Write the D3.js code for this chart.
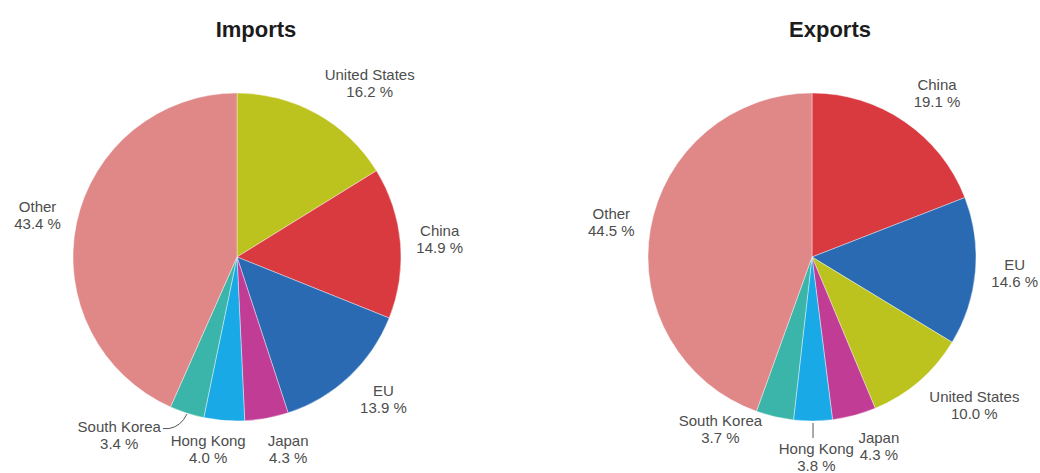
<!DOCTYPE html>
<html>
<head>
<meta charset="utf-8">
<script src="https://cdn.jsdelivr.net/npm/d3@7/dist/d3.min.js"></script>
<style>
  html, body { margin: 0; padding: 0; background: #fff; }
  svg { display: block; }
  .title { font-family: "Liberation Sans", Arial, sans-serif; font-weight: bold; font-size: 22px; fill: #1c1c1c; }
  .lbl { font-family: "Liberation Sans", Arial, sans-serif; font-size: 15px; fill: #4d4d4d; }
</style>
</head>
<body>
<svg id="chart" width="1040" height="473"></svg>
<script>
// Trade partner shares (%), clockwise from 12 o'clock
const importPartners = ["United States", "China", "EU", "Japan", "Hong Kong", "South Korea", "Other"];
const importShares   = [16.2, 14.9, 13.9, 4.3, 4.0, 3.4, 43.4];

const exportPartners = ["China", "EU", "United States", "Japan", "Hong Kong", "South Korea", "Other"];
const exportShares   = [19.1, 14.6, 10.0, 4.3, 3.8, 3.7, 44.5];

const chartTitles = ["Imports", "Exports"];

// Partner colours
const partnerColor = d3.scaleOrdinal()
  .domain(["United States", "China", "EU", "Japan", "Hong Kong", "South Korea", "Other"])
  .range(["#bcc31f", "#d83a40", "#2a6ab3", "#c13c95", "#18a9e6", "#3bb4aa", "#e08788"]);

// Per-chart tweaks for labels that would otherwise collide
const labelNudge = {
  Imports: { "South Korea": { dx: -21, dy: -8, leader: "curve" }, "Hong Kong": { dx: 0, dy: -3 } },
  Exports: { "South Korea": { dx: -9, dy: -18 }, "Hong Kong": { dx: 2, dy: 5, leader: "line" } }
};

const svg = d3.select("#chart");
const radius = 164;
const labelGap = 16;
const lineH = 17;

const panels = [
  { title: chartTitles[0], names: importPartners, values: importShares, cx: 237, cy: 257, titleX: 256 },
  { title: chartTitles[1], names: exportPartners, values: exportShares, cx: 812, cy: 257, titleX: 830 }
];

const pie = d3.pie().sort(null).value(d => d.value);
const arc = d3.arc().innerRadius(0).outerRadius(radius);

panels.forEach(p => {
  const data = p.names.map((n, i) => ({ name: n, value: p.values[i] }));
  const g = svg.append("g").attr("transform", `translate(${p.cx},${p.cy})`);

  svg.append("text").attr("class", "title")
    .attr("x", p.titleX).attr("y", 37)
    .attr("text-anchor", "middle")
    .text(p.title);

  const arcs = pie(data);

  g.selectAll("path.slice").data(arcs).join("path")
    .attr("class", "slice")
    .attr("d", arc)
    .attr("fill", d => partnerColor(d.data.name))
    .attr("stroke", "#ffffff")
    .attr("stroke-width", 0.4);

  // Label placement: anchor just outside the rim at the slice's mid angle,
  // box pushed outward horizontally and vertically depending on the angle.
  arcs.forEach(a => {
    const mid = (a.startAngle + a.endAngle) / 2;
    const s = Math.sin(mid), c = Math.cos(mid);
    const pr = radius + labelGap;
    const px = pr * s, py = -pr * c;
    const lines = [a.data.name, d3.format(".1f")(a.data.value) + " %"];

    const t = g.append("text").attr("class", "lbl");
    lines.forEach((ln, i) => t.append("tspan").text(ln));
    t.selectAll("tspan").attr("x", 0).attr("dy", (d, i) => i === 0 ? 0 : lineH);

    // measure
    const spans = t.selectAll("tspan").nodes();
    const w = d3.max(spans, n => n.getComputedTextLength());
    const h = lineH * 2;

    const f = Math.max(-1, Math.min(1, 5 * s));
    const nudge = (labelNudge[p.title] || {})[a.data.name] || { dx: 0, dy: 0 };
    const cxL = px + (w / 2) * f + nudge.dx;
    const cyL = py - (h / 2) * c + nudge.dy;

    t.attr("text-anchor", "middle");
    t.selectAll("tspan").attr("x", cxL);
    // first baseline: box top + ascent
    t.attr("y", cyL - h / 2 + 12.5);

    if (nudge.leader === "curve") {
      const ex = radius * s, ey = -radius * c;
      const sx = cxL + w / 2 + 2, sy = cyL - h / 2 + 9;
      g.append("path")
        .attr("d", `M${sx},${sy} L${sx + 6},${sy} Q${(sx + ex) / 2 + 6},${sy - 2} ${ex},${ey + 1}`)
        .attr("fill", "none").attr("stroke", "#555").attr("stroke-width", 1);
    } else if (nudge.leader === "line") {
      const ex = radius * s, ey = -radius * c;
      g.append("line")
        .attr("x1", ex).attr("y1", ey + 2)
        .attr("x2", ex).attr("y2", cyL - h / 2 - 4)
        .attr("stroke", "#555").attr("stroke-width", 1);
    }
  });
});
</script>
</body>
</html>
